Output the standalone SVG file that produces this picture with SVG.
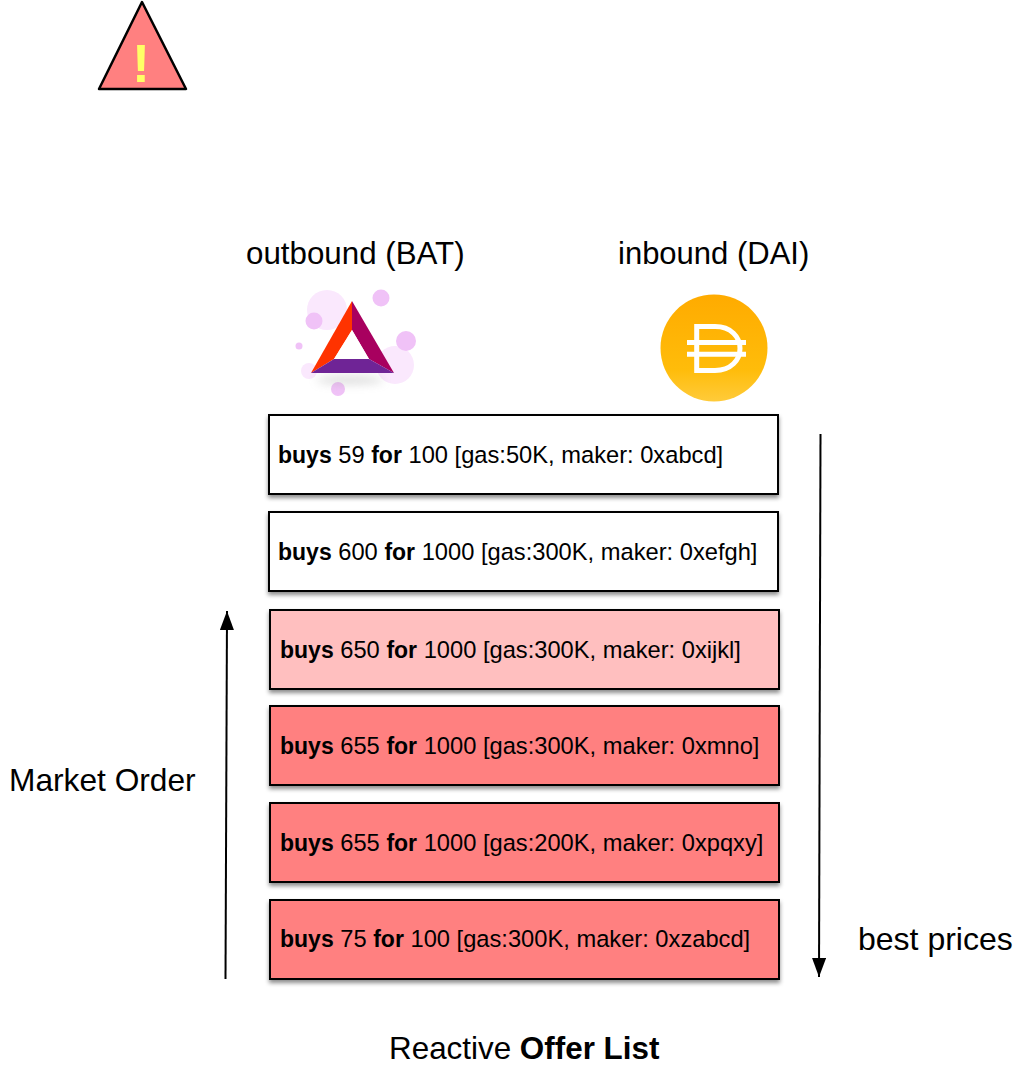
<svg xmlns="http://www.w3.org/2000/svg" width="1025" height="1076" viewBox="0 0 1025 1076">
<style>
text{font-family:"Liberation Sans",Arial,sans-serif;fill:#000}
.o{font-size:23.7px}
.l{font-size:31.4px}
.o tspan{font-weight:700;font-size:23px}
.b{font-weight:700}
.box{stroke:#000;stroke-width:2;filter:url(#sh)}
.wire{stroke:#000;stroke-width:2;fill:none}
</style>
<defs>
<filter id="sh" x="-5%" y="-15%" width="110%" height="135%"><feDropShadow dx="0" dy="3" stdDeviation="2.200" flood-color="#000" flood-opacity=".45"/></filter>
<filter id="blur" x="-30%" y="-150%" width="160%" height="400%"><feGaussianBlur stdDeviation="5"/></filter>
<filter id="soft" x="-10%" y="-10%" width="120%" height="120%"><feGaussianBlur stdDeviation=".5"/></filter>
<linearGradient id="dai" x1="0" y1="0" x2="0" y2="1"><stop offset="0" stop-color="#FFAB00"/><stop offset=".7" stop-color="#FFBC0A"/><stop offset="1" stop-color="#FFCB3A"/></linearGradient>
<marker id="ah" markerUnits="userSpaceOnUse" markerWidth="20" markerHeight="16" refX="19" refY="7" orient="auto"><path d="M0 0L19 7L0 14Z" fill="#000"/></marker>
</defs>
<g id="warning">
<path d="M142 2L186 89H99Z" fill="#FF8080" stroke="#000" stroke-width="2.500" stroke-linejoin="round"/>
<text x="141" y="82" text-anchor="middle" font-size="54" style="fill:#FFFF66;font-weight:700">!</text>
</g>
<g id="header-outbound"><text class="l" x="246" y="264" style="font-size:31.300px">outbound (BAT)</text></g>
<g id="header-inbound"><text class="l" x="618" y="264" style="font-size:31px">inbound (DAI)</text></g>
<g id="bat-logo">
<g filter="url(#soft)">
<g fill="#FAE8FD"><circle cx="327" cy="310" r="20"/><circle cx="395" cy="365" r="19"/><circle cx="309" cy="371" r="8"/></g>
<g fill="#F0C2F7"><circle cx="314" cy="321" r="8.500"/><circle cx="381" cy="298" r="8.500"/><circle cx="406" cy="341" r="10"/><circle cx="299" cy="346" r="3.500"/><circle cx="338" cy="389" r="7"/></g>
</g>
<ellipse cx="350" cy="380" rx="34" ry="4" fill="#999" opacity=".35" filter="url(#blur)"/>
<path d="M352 301L311 373L334 359L352 330Z" fill="#FF3300"/>
<path d="M352 301L394 373L369 359L352 330Z" fill="#A8005F"/>
<path d="M311 373H394L369 359H334Z" fill="#6F2496"/>
<path d="M352 330L334 359H369Z" fill="#fff"/>
</g>
<g id="dai-logo">
<circle cx="714" cy="348" r="53.500" fill="url(#dai)"/>
<path d="M696.700 326.500H715C731 326.500 740 337 740 348.500C740 360 731 370.500 715 370.500H696.700Z" fill="none" stroke="#fff" stroke-width="5"/>
<path d="M687 342.500H746M687 354.200H746" stroke="#fff" stroke-width="5" fill="none"/>
</g>
<g id="offer-1"><rect class="box" x="269" y="415" width="509" height="79" fill="#fff"/><text class="o" x="278" y="463"><tspan>buys</tspan> 59 <tspan>for</tspan> 100 [gas:50K, maker: 0xabcd]</text></g>
<g id="offer-2"><rect class="box" x="269" y="512" width="509" height="79" fill="#fff"/><text class="o" x="278" y="560"><tspan>buys</tspan> 600 <tspan>for</tspan> 1000 [gas:300K, maker: 0xefgh]</text></g>
<g id="offer-3"><rect class="box" x="270" y="610" width="509" height="79" fill="#FFBFBF"/><text class="o" x="280" y="658"><tspan>buys</tspan> 650 <tspan>for</tspan> 1000 [gas:300K, maker: 0xijkl]</text></g>
<g id="offer-4"><rect class="box" x="270" y="706" width="509" height="79" fill="#FF8080"/><text class="o" x="280" y="754"><tspan>buys</tspan> 655 <tspan>for</tspan> 1000 [gas:300K, maker: 0xmno]</text></g>
<g id="offer-5"><rect class="box" x="270" y="803" width="509" height="79" fill="#FF8080"/><text class="o" x="280" y="851"><tspan>buys</tspan> 655 <tspan>for</tspan> 1000 [gas:200K, maker: 0xpqxy]</text></g>
<g id="offer-6"><rect class="box" x="270" y="900" width="509" height="79" fill="#FF8080"/><text class="o" x="280" y="947"><tspan>buys</tspan> 75 <tspan>for</tspan> 100 [gas:300K, maker: 0xzabcd]</text></g>
<g id="connectors">
<path class="wire" d="M225.500 979L227 611" marker-end="url(#ah)"/>
<path class="wire" d="M820.500 434L819 977" marker-end="url(#ah)"/>
</g>
<g id="label-market"><text class="l" x="9" y="791" style="font-size:31.700px">Market Order</text></g>
<g id="label-best"><text class="l" x="858" y="950" style="font-size:32px">best prices</text></g>
<g id="caption"><text class="l" x="389" y="1059">Reactive <tspan class="b">Offer List</tspan></text></g>
</svg>
